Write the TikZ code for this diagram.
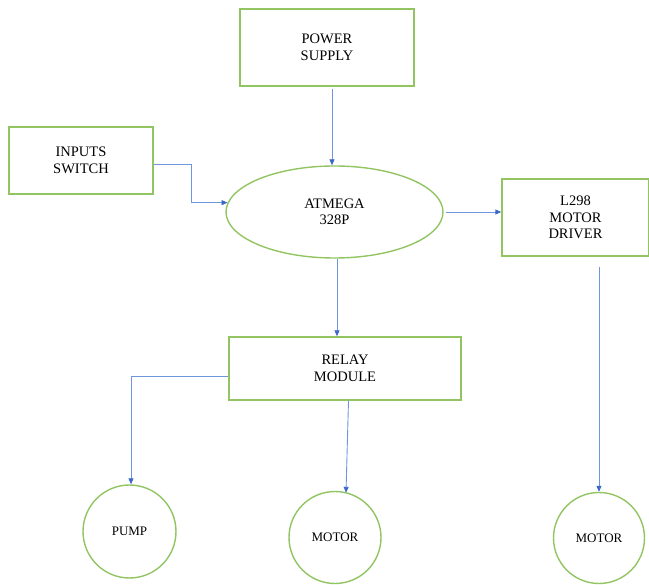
\documentclass[tikz,border=0pt]{standalone}
\usepackage{fontspec}
\setmainfont{Liberation Serif}
\usetikzlibrary{shapes.geometric,arrows.meta}
\definecolor{boxgreen}{RGB}{146,196,98}
\definecolor{lineblue}{RGB}{110,150,220}
\definecolor{tipblue}{RGB}{60,105,200}
\begin{document}
\begin{tikzpicture}
        [x=1pt, y=-1pt,
        box/.style={rectangle,draw=boxgreen,line width=1.4pt,inner sep=0pt,align=center,font=\fontsize{14.5}{16.5}\selectfont},
        oval/.style={ellipse,draw=boxgreen,line width=1.4pt,inner sep=0pt,align=center,font=\fontsize{14.5}{16.5}\selectfont},
        ring/.style={circle,draw=boxgreen,line width=1.4pt,inner sep=0pt,font=\fontsize{13}{15}\selectfont},
        arr/.style={draw=lineblue,line width=0.9pt,-{Triangle[length=6pt,width=5pt,fill=tipblue,color=tipblue]}}]
        \useasboundingbox (0,0) rectangle (649,585);
        \node[box, minimum width=174pt, minimum height=77pt] (PS) at (327,47.5) {POWER\\SUPPLY};
        \node[box, minimum width=144pt, minimum height=67pt] (IN) at (81,160.5) {INPUTS\\SWITCH};
        \node[oval, minimum width=217pt, minimum height=92pt] (MCU) at (334.5,212) {ATMEGA\\328P};
        \node[box, minimum width=147pt, minimum height=77pt] (DRV) at (575.5,217.5) {L298\\MOTOR\\DRIVER};
        \node[box, minimum width=232pt, minimum height=63pt] (RLY) at (345,368.5) {RELAY\\MODULE};
        \node[ring, minimum size=93pt] (PUMP) at (129.5,531.5) {PUMP};
        \node[ring, minimum size=92pt] (M1) at (335,537.5) {MOTOR};
        \node[ring, minimum size=91pt] (M2) at (599,538) {MOTOR};

        \draw[arr] ([xshift=5pt,yshift=-2pt]PS.south) -- ([xshift=-2.5pt]MCU.north);
        \draw[arr] ([yshift=-3.5pt]IN.east) -- ++(38,0) |- (MCU.175);
        \draw[arr] ([xshift=2pt]MCU.east) -- (MCU.east -| DRV.west);
        \draw[arr] ([xshift=2.5pt]MCU.south) -- ([xshift=2.5pt]MCU.south |- RLY.north);
        \draw[arr] ([yshift=-7.5pt]RLY.west) -| ([xshift=1.5pt]PUMP.north);
        \draw[arr] ([xshift=3.5pt]RLY.south) -- ([xshift=11pt,yshift=-2pt]M1.north);
        \draw[arr] ([xshift=23.5pt,yshift=-10pt]DRV.south) -- (M2.north);
    
    \end{tikzpicture}
\end{document}
